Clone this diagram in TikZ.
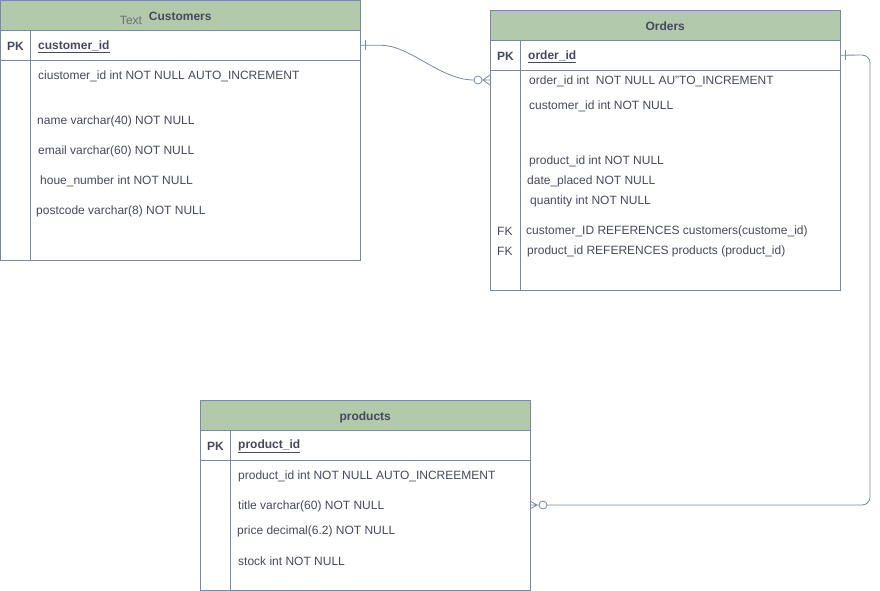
\documentclass[tikz,border=0pt]{standalone}
\usepackage{fontspec}
\setmainfont{Liberation Sans}
\usetikzlibrary{positioning}

\definecolor{sage}{HTML}{B2C9AB}
\definecolor{slate}{HTML}{788AA3}
\definecolor{ink}{HTML}{46495D}

\begin{document}
\begin{tikzpicture}[x=1pt,y=-1pt,
    font=\fontsize{12pt}{14pt}\selectfont, text=ink,
    head/.style={draw=slate,fill=sage,anchor=north west,inner sep=0pt,text height=10.5pt,text depth=0pt,font=\fontsize{12pt}{14pt}\selectfont\bfseries},
    box/.style={draw=slate,anchor=north west,inner sep=0pt},
    field/.style={anchor=west,inner sep=0pt,yshift=-1.5pt},
    key/.style={anchor=west,inner sep=0pt,yshift=-1.5pt,font=\fontsize{12pt}{14pt}\selectfont\bfseries},
    rel/.style={draw=slate,line width=0.8pt}]
  \useasboundingbox (0,0) rectangle (880,591);

  % Customers
  \node[head, minimum width=360pt, minimum height=30pt] (cust) at (0,0) {Customers};
  \node[box, minimum width=360pt, minimum height=30pt] (custpk) at (0,30) {};
  \node[box, minimum width=360pt, minimum height=200pt] (custbody) at (0,60) {};
  \draw[slate] ([xshift=30pt]custpk.north west) -- ([xshift=30pt]custbody.south west);
  \node[anchor=center,inner sep=0pt,text=ink!80] (custtext) at (131,20) {Text};
  \node[key] (custpkl) at (7,45) {PK};
  \node[key] (custid) at (38,45) {\underline{customer\_id}};
  \node[field] (c1) at (38,75) {ciustomer\_id int NOT NULL AUTO\_INCREMENT};
  \node[field] (c2) at (37,120) {name varchar(40) NOT NULL};
  \node[field] (c3) at (38,150) {email varchar(60) NOT NULL};
  \node[field] (c4) at (40,180) {houe\_number int NOT NULL};
  \node[field] (c5) at (36,210) {postcode varchar(8) NOT NULL};

  % Orders
  \node[head, minimum width=350pt, minimum height=30pt] (ord) at (490,10) {Orders};
  \node[box, minimum width=350pt, minimum height=30pt] (ordpk) at (490,40) {};
  \node[box, minimum width=350pt, minimum height=220pt] (ordbody) at (490,70) {};
  \draw[slate] ([xshift=30pt]ordpk.north west) -- ([xshift=30pt]ordbody.south west);
  \node[key] (ordpkl) at (497,55) {PK};
  \node[key] (ordid) at (528,55) {\underline{order\_id}};
  \node[field] (o1) at (529,80) {order\_id int \ NOT NULL AU"TO\_INCREMENT};
  \node[field] (o2) at (529,105) {customer\_id int NOT NULL};
  \node[field] (o3) at (529,160) {product\_id int NOT NULL};
  \node[field] (o4) at (527,180) {date\_placed NOT NULL};
  \node[field] (o5) at (530,200) {quantity int NOT NULL};
  \node[field] (fk1) at (497,230) {FK};
  \node[field] (fk2) at (497,250) {FK};
  \node[field] (o6) at (526,230) {customer\_ID REFERENCES customers(custome\_id)};
  \node[field] (o7) at (527,250) {product\_id REFERENCES products (product\_id)};

  % products
  \node[head, minimum width=330pt, minimum height=30pt] (prod) at (200,400) {products};
  \node[box, minimum width=330pt, minimum height=30pt] (prodpk) at (200,430) {};
  \node[box, minimum width=330pt, minimum height=130pt] (prodbody) at (200,460) {};
  \draw[slate] ([xshift=30pt]prodpk.north west) -- ([xshift=30pt]prodbody.south west);
  \node[key] (prodpkl) at (207,445) {PK};
  \node[key] (prodid) at (238,445) {\underline{product\_id}};
  \node[field] (p1) at (238,475) {product\_id int NOT NULL AUTO\_INCREEMENT};
  \node[field] (p2) at (238,505) {title varchar(60) NOT NULL};
  \node[field] (p3) at (237,530) {price decimal(6.2) NOT NULL};
  \node[field] (p4) at (238,560) {stock int NOT NULL};

  % relations
  \coordinate (ordin) at (490,80);
  \coordinate (prodin) at (530,505);
  \draw[rel] (custpk.east) -- ++(20,0) .. controls (410,45) and (440,80) .. (474,80);
  \draw[rel] (365,40) -- (365,50);
  \draw[rel] (478,80) circle (4pt);
  \draw[rel] (482,80) -- (ordin) (483,80) -- (490,75) (483,80) -- (490,85);

  \draw[rel, rounded corners=8pt] (ordpk.east) -- (870,55) -- (870,505) -- (547,505);
  \draw[rel] (845,50) -- (845,60);
  \draw[rel] (543,505) circle (4pt);
  \draw[rel] (539,505) -- (prodin) (537,505) -- (530,501) (537,505) -- (530,509);
\end{tikzpicture}
\end{document}
